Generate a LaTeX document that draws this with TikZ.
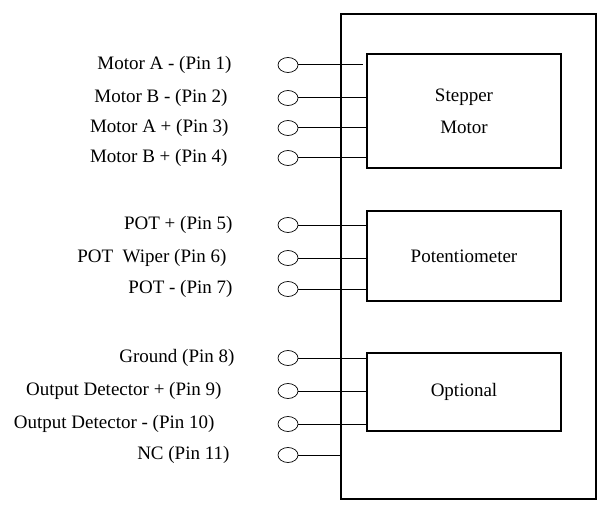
\documentclass[tikz,border=0pt]{standalone}
\usepackage{fontspec}
\setmainfont{Liberation Serif}
\usepackage{tikz}
\usetikzlibrary{shapes.geometric, positioning}

\begin{document}
\begin{tikzpicture}[
    x=1pt, y=-1pt,
    txt/.style={font=\fontsize{19}{32}\selectfont},
    box/.style={rectangle, draw, line width=1.2pt, inner sep=0pt, txt, align=center},
    pin/.style={ellipse, draw, line width=0.7pt, minimum width=20pt, minimum height=15pt, inner sep=0pt},
    lbl/.style={txt, inner sep=0pt},
    wire/.style={line width=1pt}
]
    \useasboundingbox (0,0) rectangle (597,508);

    % Housing and blocks
    \node [box, minimum width=255pt, minimum height=485pt] (housing) at (468.5,256.5) {};
    \node [box, minimum width=194pt, minimum height=114pt] (stepper) at (464,111) {Stepper\\Motor};
    \node [box, minimum width=194pt, minimum height=90pt] (pot) at (464,256) {Potentiometer};
    \node [box, minimum width=194pt, minimum height=78pt] (opt) at (464,392) {Optional};

    % Pins
    \node [pin] (p1) at (288,65) {};
    \node [pin] (p2) at (288,98) {};
    \node [pin] (p3) at (288,128) {};
    \node [pin] (p4) at (288,158) {};
    \node [pin] (p5) at (288,225) {};
    \node [pin] (p6) at (288,258) {};
    \node [pin] (p7) at (288,289) {};
    \node [pin] (p8) at (288,358) {};
    \node [pin] (p9) at (288,391) {};
    \node [pin] (p10) at (288,424) {};
    \node [pin] (p11) at (288,455) {};

    % Pin labels
    \node [lbl, left=46pt of p1] (l1) {Motor A - (Pin 1)};
    \node [lbl, left=50pt of p2] (l2) {Motor B - (Pin 2)};
    \node [lbl, left=49pt of p3] (l3) {Motor A + (Pin 3)};
    \node [lbl, left=50pt of p4] (l4) {Motor B + (Pin 4)};
    \node [lbl, left=45pt of p5] (l5) {POT + (Pin 5)};
    \node [lbl, left=51pt of p6] (l6) {POT\ \ Wiper (Pin 6)};
    \node [lbl, left=45pt of p7] (l7) {POT - (Pin 7)};
    \node [lbl, left=43pt of p8] (l8) {Ground (Pin 8)};
    \node [lbl, left=56pt of p9] (l9) {Output Detector + (Pin 9)};
    \node [lbl, left=63pt of p10] (l10) {Output Detector - (Pin 10)};
    \node [lbl, left=48pt of p11] (l11) {NC (Pin 11)};

    % Wires
    \draw [wire] (p1.east) -- ([xshift=-3pt]p1.east -| stepper.west);
    \draw [wire] (p2.east) -- (p2.east -| stepper.west);
    \draw [wire] (p3.east) -- (p3.east -| stepper.west);
    \draw [wire] (p4.east) -- (p4.east -| stepper.west);
    \draw [wire] (p5.east) -- (p5.east -| pot.west);
    \draw [wire] (p6.east) -- (p6.east -| pot.west);
    \draw [wire] (p7.east) -- (p7.east -| pot.west);
    \draw [wire] (p8.east) -- (p8.east -| opt.west);
    \draw [wire] (p9.east) -- (p9.east -| opt.west);
    \draw [wire] (p10.east) -- (p10.east -| opt.west);
    \draw [wire] (p11.east) -- ([xshift=2pt]p11.east -| housing.west);

\end{tikzpicture}
\end{document}
